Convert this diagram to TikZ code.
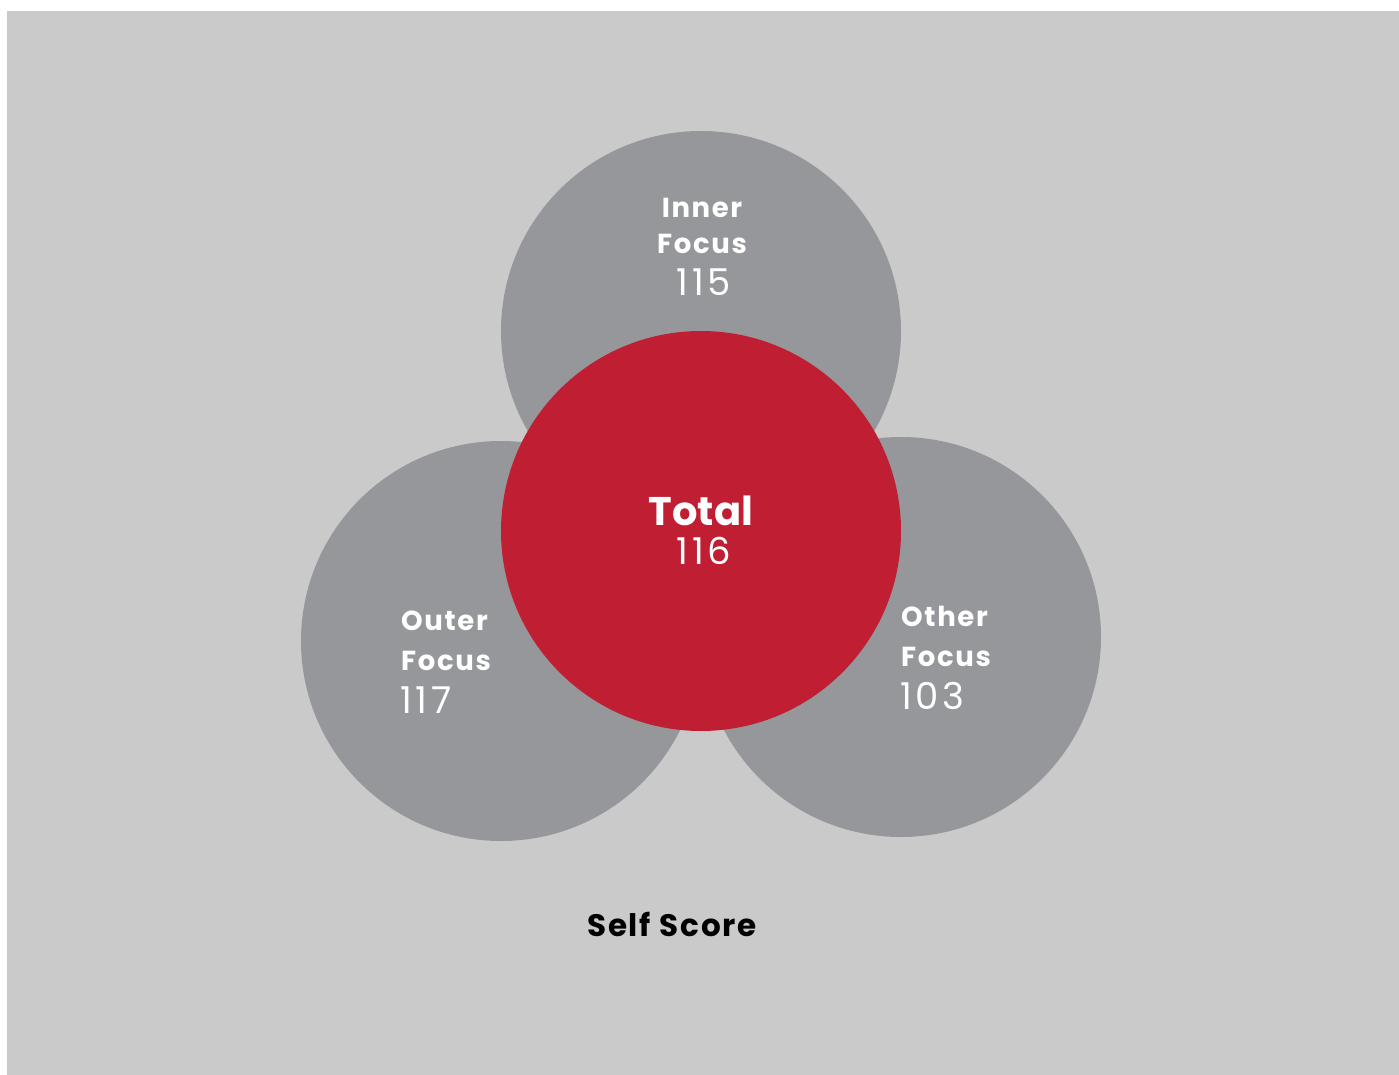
\documentclass[tikz,border=0pt]{standalone}
\usepackage{fontspec}
\setmainfont{Poppins}
\definecolor{bggray}{HTML}{CACACA}
\definecolor{cgray}{HTML}{96979A}
\definecolor{cred}{HTML}{C01F33}
\tikzset{
  circ/.style={fill=cgray, draw=none},
  redcirc/.style={fill=cred, draw=none},
  lbl/.style={text=white, font=\fontsize{27.5}{27.5}\selectfont\bfseries\addfontfeature{LetterSpace=6}, inner sep=0pt},
  num/.style={text=white, font=\fontsize{37}{37}\selectfont\addfontfeature{LetterSpace=10}, inner sep=0pt},
}
\begin{document}
\begin{tikzpicture}[x=1pt,y=-1pt]
\useasboundingbox (0,0) rectangle (1399,1075);
\fill[white] (0,0) rectangle (1399,1075);
\fill[bggray] (7,11) rectangle (1399,1075);
\fill[circ] (701,331) circle[radius=200];
\fill[circ] (501,641) circle[radius=200];
\fill[circ] (901,637) circle[radius=200];
\fill[redcirc] (701,531) circle[radius=200];
% Inner
\node[lbl, anchor=base] (inner1) at (702,218) {Inner};
\node[lbl, anchor=base] (inner2) at (702,254) {Focus};
\node[num, anchor=base] (inner3) at (704,295) {115};
% Outer
\node[lbl, anchor=base west] (outer1) at (401,630) {Outer};
\node[lbl, anchor=base west] (outer2) at (401,670) {Focus};
\node[num, anchor=base west] (outer3) at (400,713) {117};
% Other
\node[lbl, anchor=base west] (other1) at (901,626) {Other};
\node[lbl, anchor=base west] (other2) at (901,666) {Focus};
\node[num, anchor=base west] (other3) at (900,709) {103};
% Total
\node[text=white, font=\fontsize{40}{40}\selectfont\bfseries, inner sep=0pt, anchor=base] (total1) at (701,525) {Total};
\node[num, anchor=base] (total2) at (704,564) {116};
% Self score
\node[text=black, font=\fontsize{31}{31}\selectfont\bfseries\addfontfeature{LetterSpace=6}, inner sep=0pt, anchor=base] (self) at (672,936) {Self Score};
\end{tikzpicture}
\end{document}
